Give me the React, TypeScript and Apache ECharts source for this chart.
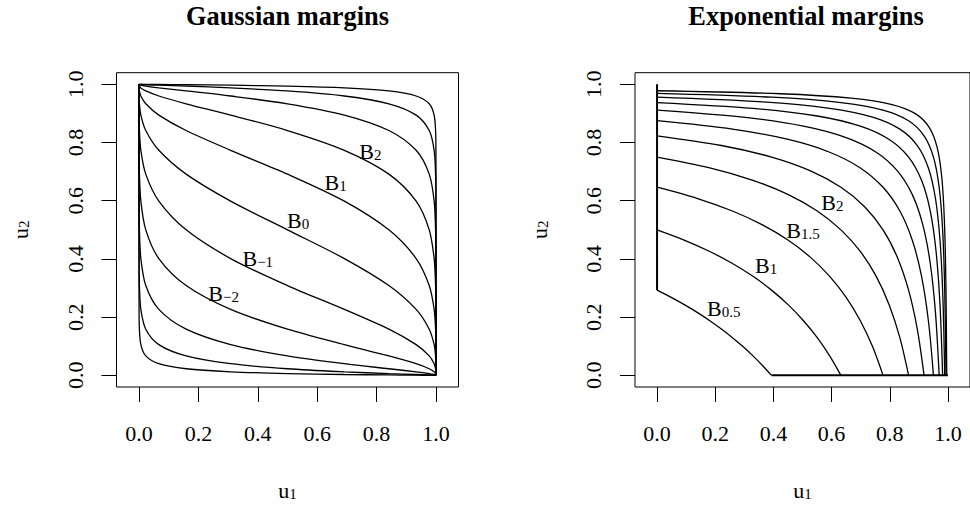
import React, { useEffect, useRef } from 'react';
import * as echarts from 'echarts';

const FONT = "'Liberation Serif', 'Times New Roman', serif";

// ---- axis ticks ----
const tickValues = [0, 0.2, 0.4, 0.6, 0.8, 1.0];

// ---- Gaussian margins panel: shared u1 grid, one u2 array per curve ----
const gaussStart = [0, 1];
const gaussEnd = [1, 0];
const gaussU1 = [0.00003, 0.00023, 0.00135, 0.00621, 0.02275, 0.06681, 0.15866, 0.30854, 0.5, 0.69146, 0.84134, 0.93319, 0.97725, 0.99379, 0.99865, 0.99977, 0.99997];
const gaussB5 = [1.0, 0.99999, 0.99997, 0.99991, 0.99977, 0.99942, 0.99865, 0.99702, 0.99379, 0.98778, 0.97725, 0.95994, 0.93319, 0.89435, 0.84134, 0.77337, 0.69146];
const gaussB4 = [0.99997, 0.99991, 0.99977, 0.99942, 0.99865, 0.99702, 0.99379, 0.98778, 0.97725, 0.95994, 0.93319, 0.89435, 0.84134, 0.77337, 0.69146, 0.59871, 0.5];
const gaussB3 = [0.99977, 0.99942, 0.99865, 0.99702, 0.99379, 0.98778, 0.97725, 0.95994, 0.93319, 0.89435, 0.84134, 0.77337, 0.69146, 0.59871, 0.5, 0.40129, 0.30854];
const gaussB2 = [0.99865, 0.99702, 0.99379, 0.98778, 0.97725, 0.95994, 0.93319, 0.89435, 0.84134, 0.77337, 0.69146, 0.59871, 0.5, 0.40129, 0.30854, 0.22663, 0.15866];
const gaussB1 = [0.99379, 0.98778, 0.97725, 0.95994, 0.93319, 0.89435, 0.84134, 0.77337, 0.69146, 0.59871, 0.5, 0.40129, 0.30854, 0.22663, 0.15866, 0.10565, 0.06681];
const gaussB0 = [0.97725, 0.95994, 0.93319, 0.89435, 0.84134, 0.77337, 0.69146, 0.59871, 0.5, 0.40129, 0.30854, 0.22663, 0.15866, 0.10565, 0.06681, 0.04006, 0.02275];
const gaussBm1 = [0.93319, 0.89435, 0.84134, 0.77337, 0.69146, 0.59871, 0.5, 0.40129, 0.30854, 0.22663, 0.15866, 0.10565, 0.06681, 0.04006, 0.02275, 0.01222, 0.00621];
const gaussBm2 = [0.84134, 0.77337, 0.69146, 0.59871, 0.5, 0.40129, 0.30854, 0.22663, 0.15866, 0.10565, 0.06681, 0.04006, 0.02275, 0.01222, 0.00621, 0.00298, 0.00135];
const gaussBm3 = [0.69146, 0.59871, 0.5, 0.40129, 0.30854, 0.22663, 0.15866, 0.10565, 0.06681, 0.04006, 0.02275, 0.01222, 0.00621, 0.00298, 0.00135, 0.00058, 0.00023];
const gaussBm4 = [0.5, 0.40129, 0.30854, 0.22663, 0.15866, 0.10565, 0.06681, 0.04006, 0.02275, 0.01222, 0.00621, 0.00298, 0.00135, 0.00058, 0.00023, 0.00009, 0.00003];
const gaussBm5 = [0.30854, 0.22663, 0.15866, 0.10565, 0.06681, 0.04006, 0.02275, 0.01222, 0.00621, 0.00298, 0.00135, 0.00058, 0.00023, 0.00009, 0.00003, 0.00001, 0.0];
const gaussCurves = [gaussB5, gaussB4, gaussB3, gaussB2, gaussB1, gaussB0, gaussBm1, gaussBm2, gaussBm3, gaussBm4, gaussBm5];

const gaussLabelSubs = ['2', '1', '0', '\u22121', '\u22122'];
const gaussLabelX = [0.779, 0.662, 0.536, 0.4, 0.285];
const gaussLabelY = [0.77, 0.661, 0.532, 0.402, 0.281];

// ---- Exponential margins panel: one (u1, u2) pair of arrays per curve ----
const expU1_05 = [0, 0.0488, 0.0952, 0.1393, 0.1813, 0.2212, 0.2592, 0.2953, 0.3297, 0.3624, 0.3935];
const expU2_05 = [0.2929, 0.268, 0.2421, 0.2154, 0.1878, 0.1591, 0.1295, 0.0988, 0.067, 0.0341, 0];
const expU1_10 = [0, 0.0952, 0.1813, 0.2592, 0.3297, 0.3935, 0.4512, 0.5034, 0.5507, 0.5934, 0.6321];
const expU2_10 = [0.5, 0.4641, 0.4257, 0.3844, 0.3403, 0.2929, 0.2421, 0.1878, 0.1295, 0.067, 0];
const expU1_15 = [0, 0.1393, 0.2592, 0.3624, 0.4512, 0.5276, 0.5934, 0.6501, 0.6988, 0.7408, 0.7769];
const expU2_15 = [0.6464, 0.6077, 0.5647, 0.517, 0.4641, 0.4054, 0.3403, 0.268, 0.1878, 0.0988, 0];
const expU1_20 = [0, 0.1813, 0.3297, 0.4512, 0.5507, 0.6321, 0.6988, 0.7534, 0.7981, 0.8347, 0.8647];
const expU2_20 = [0.75, 0.7128, 0.6701, 0.6211, 0.5647, 0.5, 0.4257, 0.3403, 0.2421, 0.1295, 0];
const expU1_25 = [0, 0.2212, 0.3935, 0.5276, 0.6321, 0.7135, 0.7769, 0.8262, 0.8647, 0.8946, 0.9179];
const expU2_25 = [0.8232, 0.7898, 0.75, 0.7027, 0.6464, 0.5796, 0.5, 0.4054, 0.2929, 0.1591, 0];
const expU1_30 = [0, 0.2592, 0.4512, 0.5934, 0.6988, 0.7769, 0.8347, 0.8775, 0.9093, 0.9328, 0.9502];
const expU2_30 = [0.875, 0.8461, 0.8105, 0.7667, 0.7128, 0.6464, 0.5647, 0.4641, 0.3403, 0.1878, 0];
const expU1_35 = [0, 0.2953, 0.5034, 0.6501, 0.7534, 0.8262, 0.8775, 0.9137, 0.9392, 0.9571, 0.9698];
const expU2_35 = [0.9116, 0.8873, 0.8564, 0.817, 0.7667, 0.7027, 0.6211, 0.517, 0.3844, 0.2154, 0];
const expU1_40 = [0, 0.3297, 0.5507, 0.6988, 0.7981, 0.8647, 0.9093, 0.9392, 0.9592, 0.9727, 0.9817];
const expU2_40 = [0.9375, 0.9175, 0.8912, 0.8564, 0.8105, 0.75, 0.6701, 0.5647, 0.4257, 0.2421, 0];
const expU1_45 = [0, 0.3624, 0.5934, 0.7408, 0.8347, 0.8946, 0.9328, 0.9571, 0.9727, 0.9826, 0.9889];
const expU2_45 = [0.9558, 0.9397, 0.9175, 0.8873, 0.8461, 0.7898, 0.7128, 0.6077, 0.4641, 0.268, 0];
const expU1_50 = [0, 0.3935, 0.6321, 0.7769, 0.8647, 0.9179, 0.9502, 0.9698, 0.9817, 0.9889, 0.9933];
const expU2_50 = [0.9688, 0.9558, 0.9375, 0.9116, 0.875, 0.8232, 0.75, 0.6464, 0.5, 0.2929, 0];
const expU1_55 = [0, 0.4231, 0.6671, 0.808, 0.8892, 0.9361, 0.9631, 0.9787, 0.9877, 0.9929, 0.9959];
const expU2_55 = [0.9779, 0.9677, 0.9526, 0.9307, 0.8985, 0.8514, 0.7824, 0.6814, 0.5335, 0.317, 0];
const expCurves = [
  [expU1_05, expU2_05], [expU1_10, expU2_10], [expU1_15, expU2_15], [expU1_20, expU2_20],
  [expU1_25, expU2_25], [expU1_30, expU2_30], [expU1_35, expU2_35], [expU1_40, expU2_40],
  [expU1_45, expU2_45], [expU1_50, expU2_50], [expU1_55, expU2_55],
];
const expLeftEdge = [[0, 1], [0, 0.2929]];
const expBottomEdge = [[0.3935, 0], [1, 0]];

const expLabelSubs = ['2', '1.5', '1', '0.5'];
const expLabelX = [0.603, 0.502, 0.375, 0.229];
const expLabelY = [0.594, 0.497, 0.377, 0.229];

const txt = { fontFamily: FONT, color: '#000', textBorderWidth: 0, textBorderColor: 'transparent', textShadowBlur: 0, opacity: 1 };
const rich = {
  b: { ...txt, fontSize: 22, lineHeight: 22, verticalAlign: 'bottom' },
  s: { ...txt, fontSize: 15, lineHeight: 13, verticalAlign: 'bottom' },
};
const nameRich = {
  u: { ...txt, fontSize: 22, lineHeight: 22, verticalAlign: 'bottom' },
  s: { ...txt, fontSize: 15, lineHeight: 13, verticalAlign: 'bottom' },
};

const fmt = (v: number) => v.toFixed(1);

function xAxis(gridIndex: number) {
  return {
    gridIndex,
    type: 'value',
    min: -0.0758,
    max: 1.0758,
    axisLine: { show: false, onZero: false },
    axisTick: { show: true, length: 15, customValues: tickValues, lineStyle: { color: '#000', width: 1 } },
    axisLabel: { customValues: tickValues, formatter: fmt, margin: 35, color: '#000', fontFamily: FONT, fontSize: 22 },
    splitLine: { show: false },
    name: '{u|u}{s|1}',
    nameLocation: 'middle',
    nameGap: 92,
    nameTextStyle: { rich: nameRich },
  };
}
function yAxis(gridIndex: number) {
  return {
    gridIndex,
    type: 'value',
    min: -0.04,
    max: 1.04,
    axisLine: { show: false, onZero: false },
    axisTick: { show: true, length: 15, customValues: tickValues, lineStyle: { color: '#000', width: 1 } },
    axisLabel: { customValues: tickValues, formatter: fmt, rotate: 90, margin: 30.5, color: '#000', fontFamily: FONT, fontSize: 22 },
    splitLine: { show: false },
    name: '{u|u}{s|2}',
    nameLocation: 'middle',
    nameGap: 85,
    nameTextStyle: { rich: nameRich },
  };
}

const lineBase = {
  type: 'line',
  symbol: 'none',
  showSymbol: false,
  silent: true,
  animation: false,
};

function buildOption() {
  const series: any[] = [];
  gaussCurves.forEach((u2) => {
    series.push({
      ...lineBase,
      xAxisIndex: 0,
      yAxisIndex: 0,
      smooth: 0.3,
      lineStyle: { color: '#000', width: 1.3 },
      data: [gaussStart, ...gaussU1.map((x, i) => [x, u2[i]]), gaussEnd],
    });
  });
  expCurves.forEach(([u1, u2]) => {
    series.push({
      ...lineBase,
      xAxisIndex: 1,
      yAxisIndex: 1,
      smooth: 0.3,
      lineStyle: { color: '#000', width: 1.3 },
      data: u1.map((x, i) => [x, u2[i]]),
    });
  });
  [expLeftEdge, expBottomEdge].forEach((edge) => {
    series.push({
      ...lineBase,
      xAxisIndex: 1,
      yAxisIndex: 1,
      lineStyle: { color: '#000', width: 2 },
      data: edge,
    });
  });
  const labelSeries = (xi: number, xs: number[], ys: number[], subs: string[]) => ({
    type: 'scatter',
    xAxisIndex: xi,
    yAxisIndex: xi,
    symbol: 'circle',
    symbolSize: 1,
    silent: true,
    z: 5,
    itemStyle: { color: '#000', opacity: 0 },
    label: {
      show: true,
      position: 'inside',
      ...txt,
      formatter: (p: any) => `{b|B}{s|${p.name}}`,
      rich,
    },
    labelLayout: { hideOverlap: false },
    data: xs.map((x, i) => ({
      value: [x, ys[i]],
      name: subs[i],
      label: { opacity: 1, color: '#000' },
    })),
  });
  series.push(labelSeries(0, gaussLabelX, gaussLabelY, gaussLabelSubs));
  series.push(labelSeries(1, expLabelX, expLabelY, expLabelSubs));

  return {
    animation: false,
    backgroundColor: '#fff',
    grid: [
      { left: 116.5, top: 72.7, width: 342, height: 320.5, show: true, borderColor: '#000', borderWidth: 1, backgroundColor: 'transparent' },
      { left: 635, top: 72.7, width: 342, height: 320.5, show: true, borderColor: '#000', borderWidth: 1, backgroundColor: 'transparent' },
    ],
    xAxis: [xAxis(0), xAxis(1)],
    yAxis: [yAxis(0), yAxis(1)],
    graphic: [
      {
        type: 'text',
        x: 287.5,
        y: 16,
        style: { text: 'Gaussian margins', fontFamily: FONT, fontSize: 26.4, fontWeight: 'bold', fill: '#000', align: 'center', verticalAlign: 'middle' },
      },
      {
        type: 'text',
        x: 806,
        y: 16,
        style: { text: 'Exponential margins', fontFamily: FONT, fontSize: 26.4, fontWeight: 'bold', fill: '#000', align: 'center', verticalAlign: 'middle' },
      },
    ],
    series,
  };
}

export default function App() {
  const ref = useRef<HTMLDivElement>(null);
  useEffect(() => {
    if (!ref.current) return;
    const chart = echarts.init(ref.current, null, { renderer: 'svg' });
    chart.setOption(buildOption() as any);
    return () => chart.dispose();
  }, []);
  return (
    <div
      ref={ref}
      style={{ position: 'fixed', left: 0, top: 0, width: 970, height: 506, background: '#fff' }}
    />
  );
}
